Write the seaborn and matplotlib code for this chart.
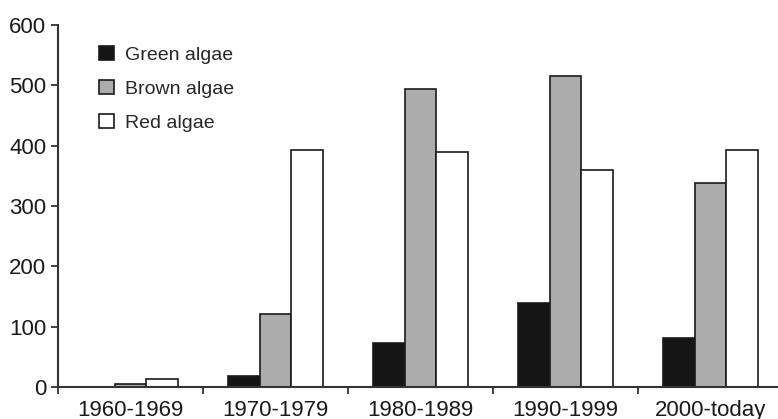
import pandas as pd
import numpy as np
import matplotlib.pyplot as plt
import seaborn as sns

##Values
periods = ['1960-1969', '1970-1979', '1980-1989', '1990-1999', '2000-today']
groups = ['Green algae', 'Brown algae', 'Red algae']
green = [0, 19, 73, 139, 82]
brown = [5, 121, 494, 516, 338]
red = [14, 392, 389, 360, 392]

df = pd.DataFrame({
    'Period': periods * 3,
    'Group': [groups[0]] * 5 + [groups[1]] * 5 + [groups[2]] * 5,
    'Count': green + brown + red,
})

sns.set_style('ticks')
plt.rcParams['font.family'] = ['Liberation Sans', 'DejaVu Sans']

fig = plt.figure(figsize=(7.78, 4.19), dpi=100)
ax = fig.add_axes([58 / 778, 32 / 419, 725 / 778, 362 / 419])

sns.barplot(data=df, x='Period', y='Count', hue='Group', hue_order=groups,
            palette=['#151515', '#abacab', '#ffffff'], width=0.66, gap=0,
            edgecolor='#1a1a1a', linewidth=1.2, ax=ax)

##Axes and ticks
ax.set_ylim(0, 600)
ax.set_xlim(-0.5, 4.5)
ax.set_yticks(range(0, 601, 100))
ax.set_xlabel('')
ax.set_ylabel('')
ax.set_xticks(np.arange(-0.5, 4.6, 1.0), minor=True)
ax.tick_params(axis='x', which='major', length=0, labelsize=16, colors='#1a1a1a', pad=9)
ax.tick_params(axis='x', which='minor', length=5, width=1.3, color='#333333', direction='out')
ax.tick_params(axis='y', length=5, width=1.3, color='#333333', labelsize=16, labelcolor='#1a1a1a')
sns.despine(ax=ax)
for s in ['left', 'bottom']:
    ax.spines[s].set_color('#333333')
    ax.spines[s].set_linewidth(1.5)

##Legend in the top-left without frame
ax.legend(loc='upper left', bbox_to_anchor=(99 / 778, 1 - 46 / 419),
          bbox_transform=fig.transFigure, frameon=False, fontsize=14,
          handlelength=0.75, handleheight=0.75, handletextpad=0.6,
          labelspacing=0.82, borderpad=0, borderaxespad=0)

fig.savefig('out.png', dpi=100)
